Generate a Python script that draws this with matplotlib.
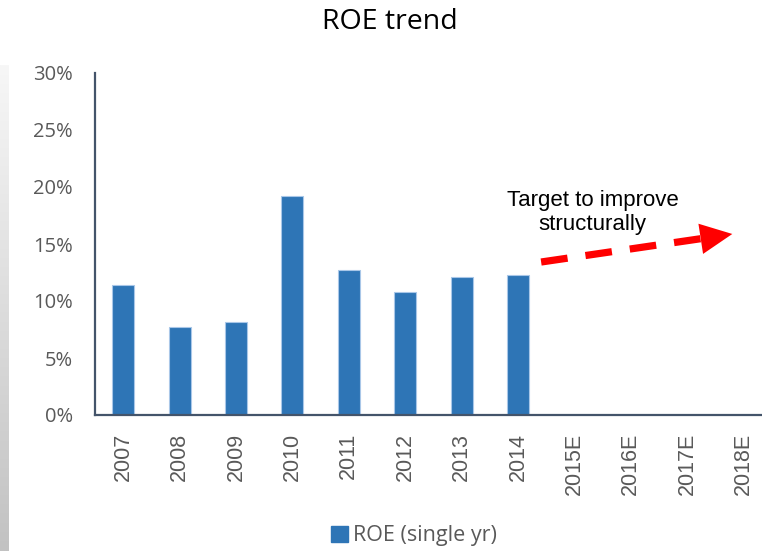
import numpy as np
import matplotlib
matplotlib.use("Agg")
import matplotlib.pyplot as plt
from matplotlib.ticker import FuncFormatter

# data
years = ["2007", "2008", "2009", "2010", "2011", "2012", "2013", "2014",
         "2015E", "2016E", "2017E", "2018E"]
roe = [11.4, 7.7, 8.2, 19.2, 12.7, 10.8, 12.1, 12.3]   # % single yr
y_ticks = [0, 5, 10, 15, 20, 25, 30]
note = "Target to improve\nstructurally"

BAR = "#2E75B6"
AXIS = "#44546A"
GREY = "#595959"

W, H = 762, 551
fig = plt.figure(figsize=(W / 100, H / 100), dpi=100)

# grey gradient strip at the left edge (screenshot shadow)
strip = fig.add_axes([0, 0, 9 / W, (H - 65) / H])
grad = np.linspace(0, 1, 256).reshape(-1, 1)
strip.imshow(grad, aspect="auto", cmap=matplotlib.colors.LinearSegmentedColormap.from_list(
    "g", ["#f7f7f7", "#c2c2c2"]))
strip.axis("off")

ax = fig.add_axes([95 / W, (H - 415) / H, 12 * 56.4 / W, 342 / H])
x = np.arange(len(years))
ax.bar(x[:len(roe)], roe, width=0.39, color=BAR, edgecolor="#a9c7e8",
       linewidth=0.8, zorder=2)

ax.set_xlim(-0.5, len(years) - 0.5)
ax.set_ylim(0, 30)
ax.set_yticks(y_ticks)
ax.yaxis.set_major_formatter(FuncFormatter(lambda v, p: f"{v:.0f}%"))
ax.set_xticks(x)
ax.set_xticklabels(years, rotation=90, family="Liberation Sans", fontsize=15.5,
                   color=GREY)
for lab in ax.get_yticklabels():
    lab.set_family("Open Sans")
    lab.set_fontsize(14.5)
    lab.set_color(GREY)
ax.tick_params(axis="y", length=0, pad=16)
ax.tick_params(axis="x", length=0, pad=13)

for s in ["top", "right"]:
    ax.spines[s].set_visible(False)
for s in ["left", "bottom"]:
    ax.spines[s].set_color(AXIS)
    ax.spines[s].set_linewidth(1.6)

# dashed red "improve" arrow
ax.plot([7.41, 10.44], [13.42, 15.61], color="red", lw=5.2,
        linestyle=(0, (3.7, 2.5)), solid_capstyle="butt", dash_capstyle="butt",
        zorder=3)
ax.annotate("", xy=(10.8, 15.88), xytext=(10.3, 15.5),
            arrowprops=dict(arrowstyle="-|>,head_length=1.15,head_width=0.55",
                            mutation_scale=20, color="red", lw=0,
                            shrinkA=0, shrinkB=0), zorder=3)
ax.text(8.32, 17.75, note, ha="center", va="center", family="Liberation Sans",
        fontsize=16, color="black", linespacing=1.2)

fig.text(390 / W, 1 - 22 / H, "ROE trend", ha="center", va="center",
         family="Open Sans", fontsize=20.5, color="black")

leg = fig.legend(handles=[plt.Rectangle((0, 0), 1, 1, color=BAR)],
                 labels=["ROE (single yr)"], loc="center",
                 bbox_to_anchor=(414 / W, 1 - 536 / H), frameon=False,
                 handlelength=0.8, handleheight=0.8, handletextpad=0.25,
                 prop={"family": "Open Sans", "size": 15.5})
for t in leg.get_texts():
    t.set_color(GREY)

fig.savefig("out.png", dpi=100)
